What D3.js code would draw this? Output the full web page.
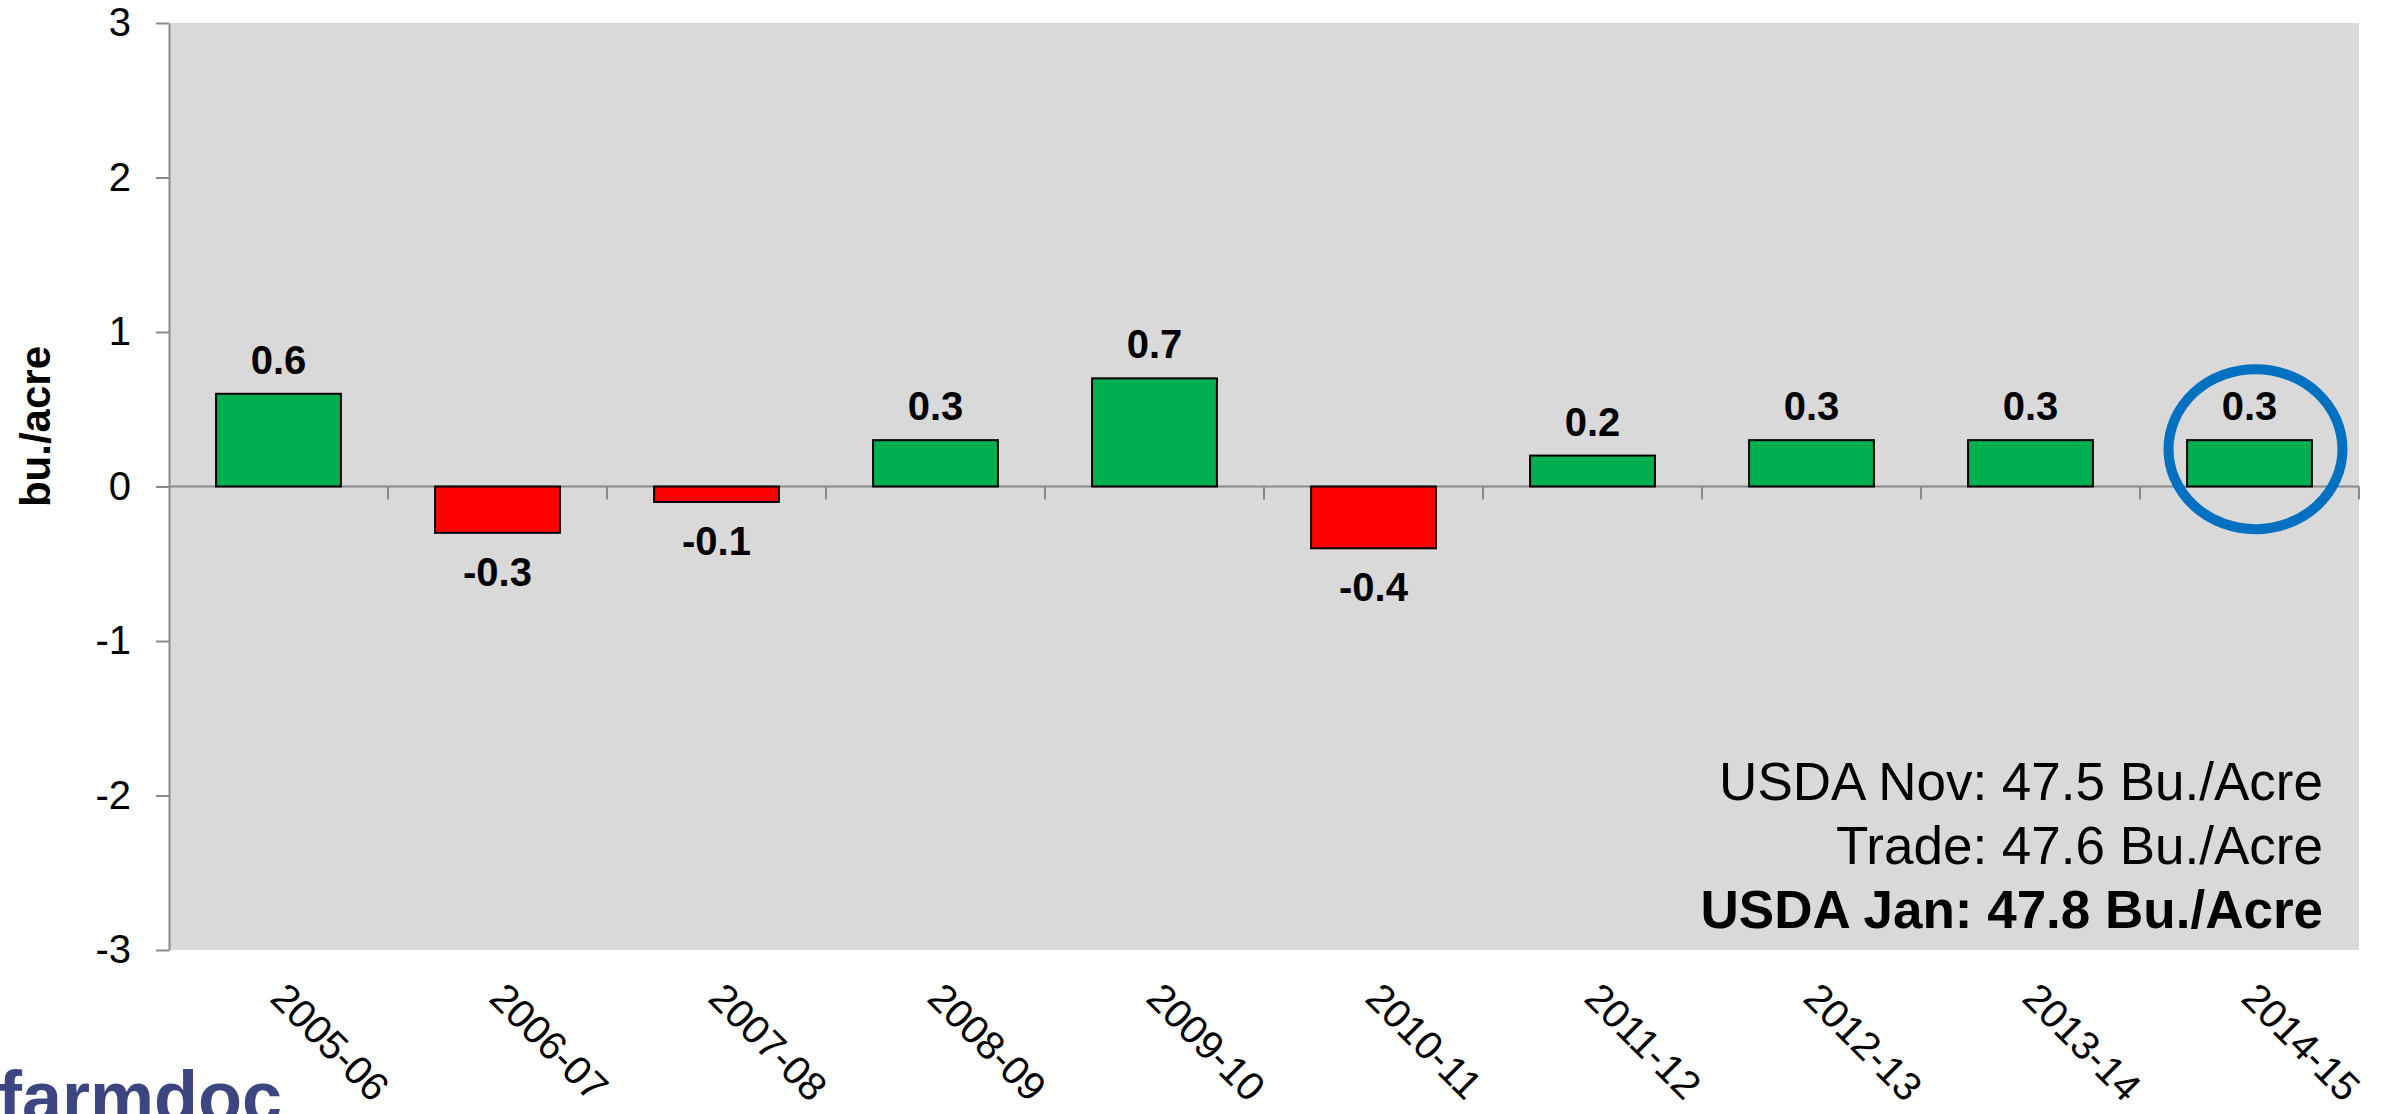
<!DOCTYPE html>
<html>
<head>
<meta charset="utf-8">
<script src="https://cdn.jsdelivr.net/npm/d3@7"></script>
<style>
  body { margin: 0; background: #fff; }
  svg { display: block; font-family: 'Liberation Sans', Arial, sans-serif; }
</style>
</head>
<body>
<div id="chart"></div>
<script>
var years = ['2005-06', '2006-07', '2007-08', '2008-09', '2009-10',
             '2010-11', '2011-12', '2012-13', '2013-14', '2014-15'];
var diffs = [0.6, -0.3, -0.1, 0.3, 0.7, -0.4, 0.2, 0.3, 0.3, 0.3];
var yTicks = [-3, -2, -1, 0, 1, 2, 3];
var notes = ['USDA Nov: 47.5 Bu./Acre', 'Trade: 47.6 Bu./Acre', 'USDA Jan: 47.8 Bu./Acre'];
var highlighted = '2014-15';

var width = 2385;
var height = 1114;
var plot = {left: 169, right: 2359, top: 23, bottom: 950};
var axisColor = '#898989';

var data = years.map(function(d, i) { return {year: d, value: diffs[i]}; });

// plain hyphen for negatives, like the original
var fmtInt = (d) => d3.format('d')(d).replace('\u2212', '-');
var fmtVal = (d) => d3.format('.1f')(d).replace('\u2212', '-');

var svg = d3.select('#chart')
  .append('svg')
  .attr('width', width)
  .attr('height', height);

var x = d3.scaleBand()
  .domain(years)
  .range([plot.left, plot.right])
  .paddingInner(0.43)
  .paddingOuter(0.215);

var y = d3.scaleLinear()
  .domain([-3, 3])
  .range([plot.bottom, plot.top]);

// plot background
svg.append('rect')
  .attr('x', plot.left)
  .attr('y', plot.top)
  .attr('width', plot.right - plot.left)
  .attr('height', plot.bottom - plot.top)
  .style('fill', '#d9d9d9');

// y axis
var yAxis = svg.append('g')
  .attr('transform', 'translate(' + plot.left + ',0)')
  .call(d3.axisLeft(y).tickValues(yTicks).tickSize(13).tickPadding(25).tickSizeOuter(0)
    .tickFormat(fmtInt));
yAxis.select('.domain').style('stroke', axisColor).style('stroke-width', 2);
yAxis.selectAll('.tick line').style('stroke', axisColor).style('stroke-width', 2);
yAxis.selectAll('.tick text')
  .style('font-family', "'Liberation Sans', Arial, sans-serif")
  .style('font-size', '40px')
  .style('fill', '#000');

svg.append('text')
  .attr('transform', 'translate(50,' + ((plot.top + plot.bottom) / 2 - 60) + ') rotate(-90)')
  .attr('text-anchor', 'middle')
  .style('font-size', '42px')
  .style('font-weight', 'bold')
  .text('bu./acre');

// zero line with category separators
var zero = y(0);
svg.append('line')
  .attr('x1', plot.left).attr('x2', plot.right)
  .attr('y1', zero).attr('y2', zero)
  .style('stroke', axisColor).style('stroke-width', 2);

svg.append('g')
  .selectAll('line')
  .data(years)
  .enter()
  .append('line')
  .attr('x1', (d) => x(d) + x.bandwidth() / 2 + x.step() / 2)
  .attr('x2', (d) => x(d) + x.bandwidth() / 2 + x.step() / 2)
  .attr('y1', zero)
  .attr('y2', zero + 13)
  .style('stroke', axisColor)
  .style('stroke-width', 2);

// bars
svg.append('g')
  .selectAll('rect')
  .data(data)
  .enter()
  .append('rect')
  .attr('x', (d) => x(d.year))
  .attr('width', x.bandwidth())
  .attr('y', (d) => y(Math.max(0, d.value)))
  .attr('height', (d) => Math.abs(y(d.value) - y(0)))
  .style('fill', (d) => d.value >= 0 ? '#00b050' : '#ff0000')
  .style('stroke', '#000')
  .style('stroke-width', 2);

// value labels
svg.append('g')
  .selectAll('text')
  .data(data)
  .enter()
  .append('text')
  .attr('x', (d) => x(d.year) + x.bandwidth() / 2)
  .attr('y', (d) => d.value >= 0 ? y(d.value) - 20 : y(d.value) + 53)
  .attr('text-anchor', 'middle')
  .style('font-size', '40px')
  .style('font-weight', 'bold')
  .text((d) => fmtVal(d.value));

// category labels (rotated)
svg.append('g')
  .selectAll('text')
  .data(years)
  .enter()
  .append('text')
  .attr('transform', (d) => 'translate(' + (x(d) + x.bandwidth() / 2 - 10) + ',1000) rotate(45)')
  .attr('text-anchor', 'start')
  .style('font-size', '40px')
  .text((d) => d);

// highlight ring
svg.append('ellipse')
  .attr('cx', x(highlighted) + x.bandwidth() / 2 + 6)
  .attr('cy', y(0.3) + 9)
  .attr('rx', 87)
  .attr('ry', 80)
  .style('fill', 'none')
  .style('stroke', '#0070c0')
  .style('stroke-width', 10);

// notes
svg.append('g')
  .selectAll('text')
  .data(notes)
  .enter()
  .append('text')
  .attr('x', 2323)
  .attr('y', (d, i) => 800 + i * 64)
  .attr('text-anchor', 'end')
  .style('font-size', '53px')
  .style('font-weight', (d, i) => i === notes.length - 1 ? 'bold' : 'normal')
  .text((d) => d);

// logo (cut off at the bottom edge, as in the original)
svg.append('text')
  .attr('x', -2)
  .attr('y', 1122)
  .style('font-size', '72px')
  .style('font-weight', 'bold')
  .style('fill', '#3d4680')
  .text('farmdoc');
</script>
</body>
</html>
